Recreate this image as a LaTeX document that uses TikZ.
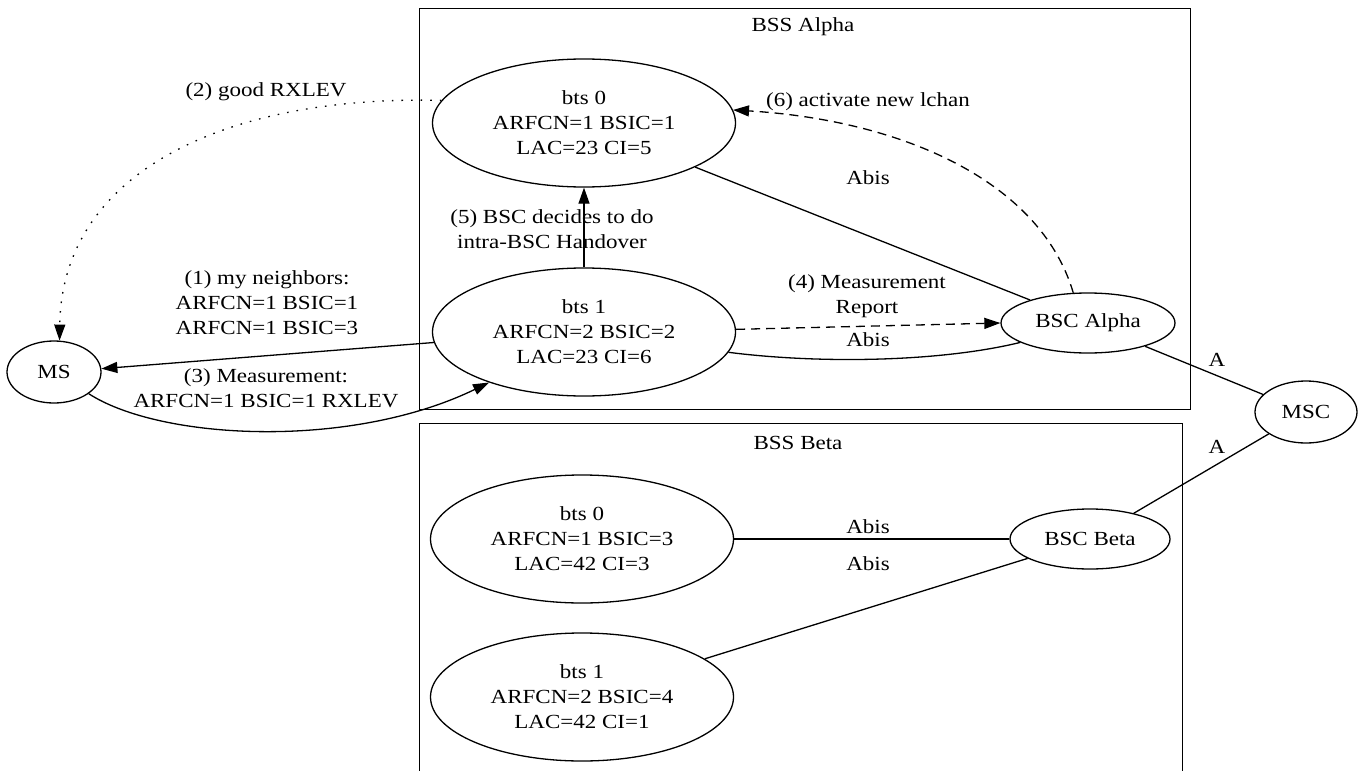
\documentclass[tikz,border=0pt]{standalone}
\usepackage{fontspec}
\setmainfont[FakeStretch=1.15]{Liberation Serif}
\usetikzlibrary{arrows.meta, shapes.geometric}

\begin{document}
\begin{tikzpicture}[
    x=1pt, y=-1pt,
    >={Triangle[length=16pt, width=11pt]},
    every node/.style={font=\fontsize{20}{25}\selectfont, align=center, text=black},
    cluster/.style={
      rectangle, draw=black, line width=1.3pt,
      anchor=north west, inner sep=0pt
    },
    station/.style={
      ellipse, draw=black, line width=1.3pt, inner sep=0pt
    },
    bts/.style={station, minimum width=303pt, minimum height=128pt},
    lbl/.style={inner sep=0pt},
    link/.style={draw=black, line width=1.3pt},
    msg/.style={link, ->},
    dashmsg/.style={msg, dash pattern=on 9pt off 6pt},
    dotmsg/.style={msg, dash pattern=on 1.6pt off 8pt}
  ]
    \useasboundingbox (0,0) rectangle (1363,771);

    \node[cluster, minimum width=771pt, minimum height=401pt] (bssA) at (419,8) {};
    \node[lbl] (bssAtitle) at (803,27) {BSS Alpha};
    \node[cluster, minimum width=763pt, minimum height=370pt] (bssB) at (419,423) {};
    \node[lbl] (bssBtitle) at (798,443) {BSS Beta};

    \node[station, minimum width=94pt, minimum height=62pt] (ms) at (54,372) {MS};
    \node[station, minimum width=102pt, minimum height=62pt] (msc) at (1306,412) {MSC};

    \node[bts] (btsA0) at (584,123) {bts 0\\ARFCN=1 BSIC=1\\LAC=23 CI=5};
    \node[bts] (btsA1) at (584,332) {bts 1\\ARFCN=2 BSIC=2\\LAC=23 CI=6};
    \node[station, minimum width=174pt, minimum height=60pt] (bscA) at (1088,323) {BSC Alpha};

    \node[bts] (btsB0) at (582,539) {bts 0\\ARFCN=1 BSIC=3\\LAC=42 CI=3};
    \node[bts] (btsB1) at (582,697) {bts 1\\ARFCN=2 BSIC=4\\LAC=42 CI=1};
    \node[station, minimum width=160pt, minimum height=60pt] (bscB) at (1090,539) {BSC Beta};

    \node[lbl] (lblGood) at (266,92) {(2) good RXLEV};
    \node[lbl] (lblNeigh) at (267,303) {(1) my neighbors:\\ARFCN=1 BSIC=1\\ARFCN=1 BSIC=3};
    \node[lbl] (lblMeas) at (266,388) {(3) Measurement:\\ARFCN=1 BSIC=1 RXLEV};
    \node[lbl] (lblDecide) at (552,229) {(5) BSC decides to do\\intra-BSC Handover};
    \node[lbl] (lblActivate) at (868,102) {(6) activate new lchan};
    \node[lbl] (lblAbisA0) at (868,178) {Abis};
    \node[lbl] (lblReport) at (867,296) {(4) Measurement\\Report};
    \node[lbl] (lblAbisA1) at (868,340) {Abis};
    \node[lbl] (lblAbisB0) at (868,527) {Abis};
    \node[lbl] (lblAbisB1) at (868,564) {Abis};
    \node[lbl] (lblAtoA) at (1217,360) {A};
    \node[lbl] (lblAtoB) at (1217,447) {A};

    \draw[link] (btsA0) -- (bscA);
    \draw[link] (btsA1.-8) .. controls (820,364) and (940,362) .. (bscA.196);
    \draw[dashmsg] (btsA1.1) -- (bscA.west);
    \draw[dashmsg] (bscA.116) .. controls (1040,180) and (900,120) .. (btsA0.5);
    \draw[msg] (btsA1.north) -- (btsA0.south);
    \draw[msg] (btsA1.184) -- (ms.4);
    \draw[dotmsg] (btsA0.171) .. controls (230,95) and (62,170) .. (ms.80);
    \draw[msg] (ms.-32) .. controls (160,440) and (350,450) .. (btsA1.208);
    \draw[link] (bscA) -- (msc);
    \draw[link] (btsB0) -- (bscB);
    \draw[link] (btsB1) -- (bscB);
    \draw[link] (bscB) -- (msc);
  \end{tikzpicture}
\end{document}
